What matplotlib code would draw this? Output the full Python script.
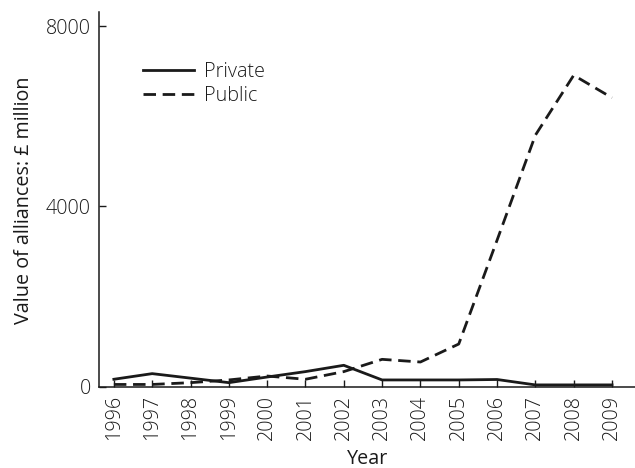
import matplotlib
matplotlib.use("Agg")
import matplotlib.pyplot as plt

years = [1996, 1997, 1998, 1999, 2000, 2001, 2002, 2003, 2004, 2005, 2006, 2007, 2008, 2009]
private = [165, 290, 190, 90, 215, 335, 475, 150, 150, 150, 160, 40, 40, 40]
public = [50, 50, 90, 150, 237, 165, 335, 607, 548, 947, 3250, 5580, 6910, 6410]
y_ticks = [0, 4000, 8000]

plt.rcParams['font.family'] = ['Open Sans', 'DejaVu Sans']
plt.rcParams['font.weight'] = 'light'
FS = 14.2
INK = '#1a1a1a'

fig = plt.figure(figsize=(6.35, 4.68), dpi=100)
ax = fig.add_axes([0.1564, 0.1737, 0.8436, 0.8013])

ax.plot(years, private, color=INK, lw=2, label='Private')
ax.plot(years, public, color=INK, lw=2, linestyle=(0, (4.5, 2.4)), label='Public')

ax.set_xlim(1995.62, 2009.6)
ax.set_ylim(0, 8320)
ax.set_xticks(years)
ax.set_xticklabels([str(y) for y in years], rotation=90, fontsize=FS)
ax.set_yticks(y_ticks)
ax.set_yticklabels([str(v) for v in y_ticks], fontsize=FS)
ax.tick_params(direction='in', length=5, width=1, color=INK, labelcolor=INK, pad=6)
for s in ['top', 'right']:
    ax.spines[s].set_visible(False)
for s in ['left', 'bottom']:
    ax.spines[s].set_linewidth(1.1)
    ax.spines[s].set_color(INK)

ax.set_xlabel('Year', fontsize=FS, color=INK)
ax.xaxis.set_label_coords(0.5, -0.166)
ax.set_ylabel('Value of alliances: £ million', fontsize=FS, color=INK)
ax.yaxis.set_label_coords(-0.122, 0.498)

leg = ax.legend(loc='upper left', bbox_to_anchor=(143/635, 1 - 62/468),
                bbox_transform=fig.transFigure, frameon=False,
                fontsize=FS, handlelength=2.6, handletextpad=0.5, labelspacing=0.2,
                borderaxespad=0, borderpad=0)
for t in leg.get_texts():
    t.set_color(INK)

fig.savefig('out.png', dpi=100)
